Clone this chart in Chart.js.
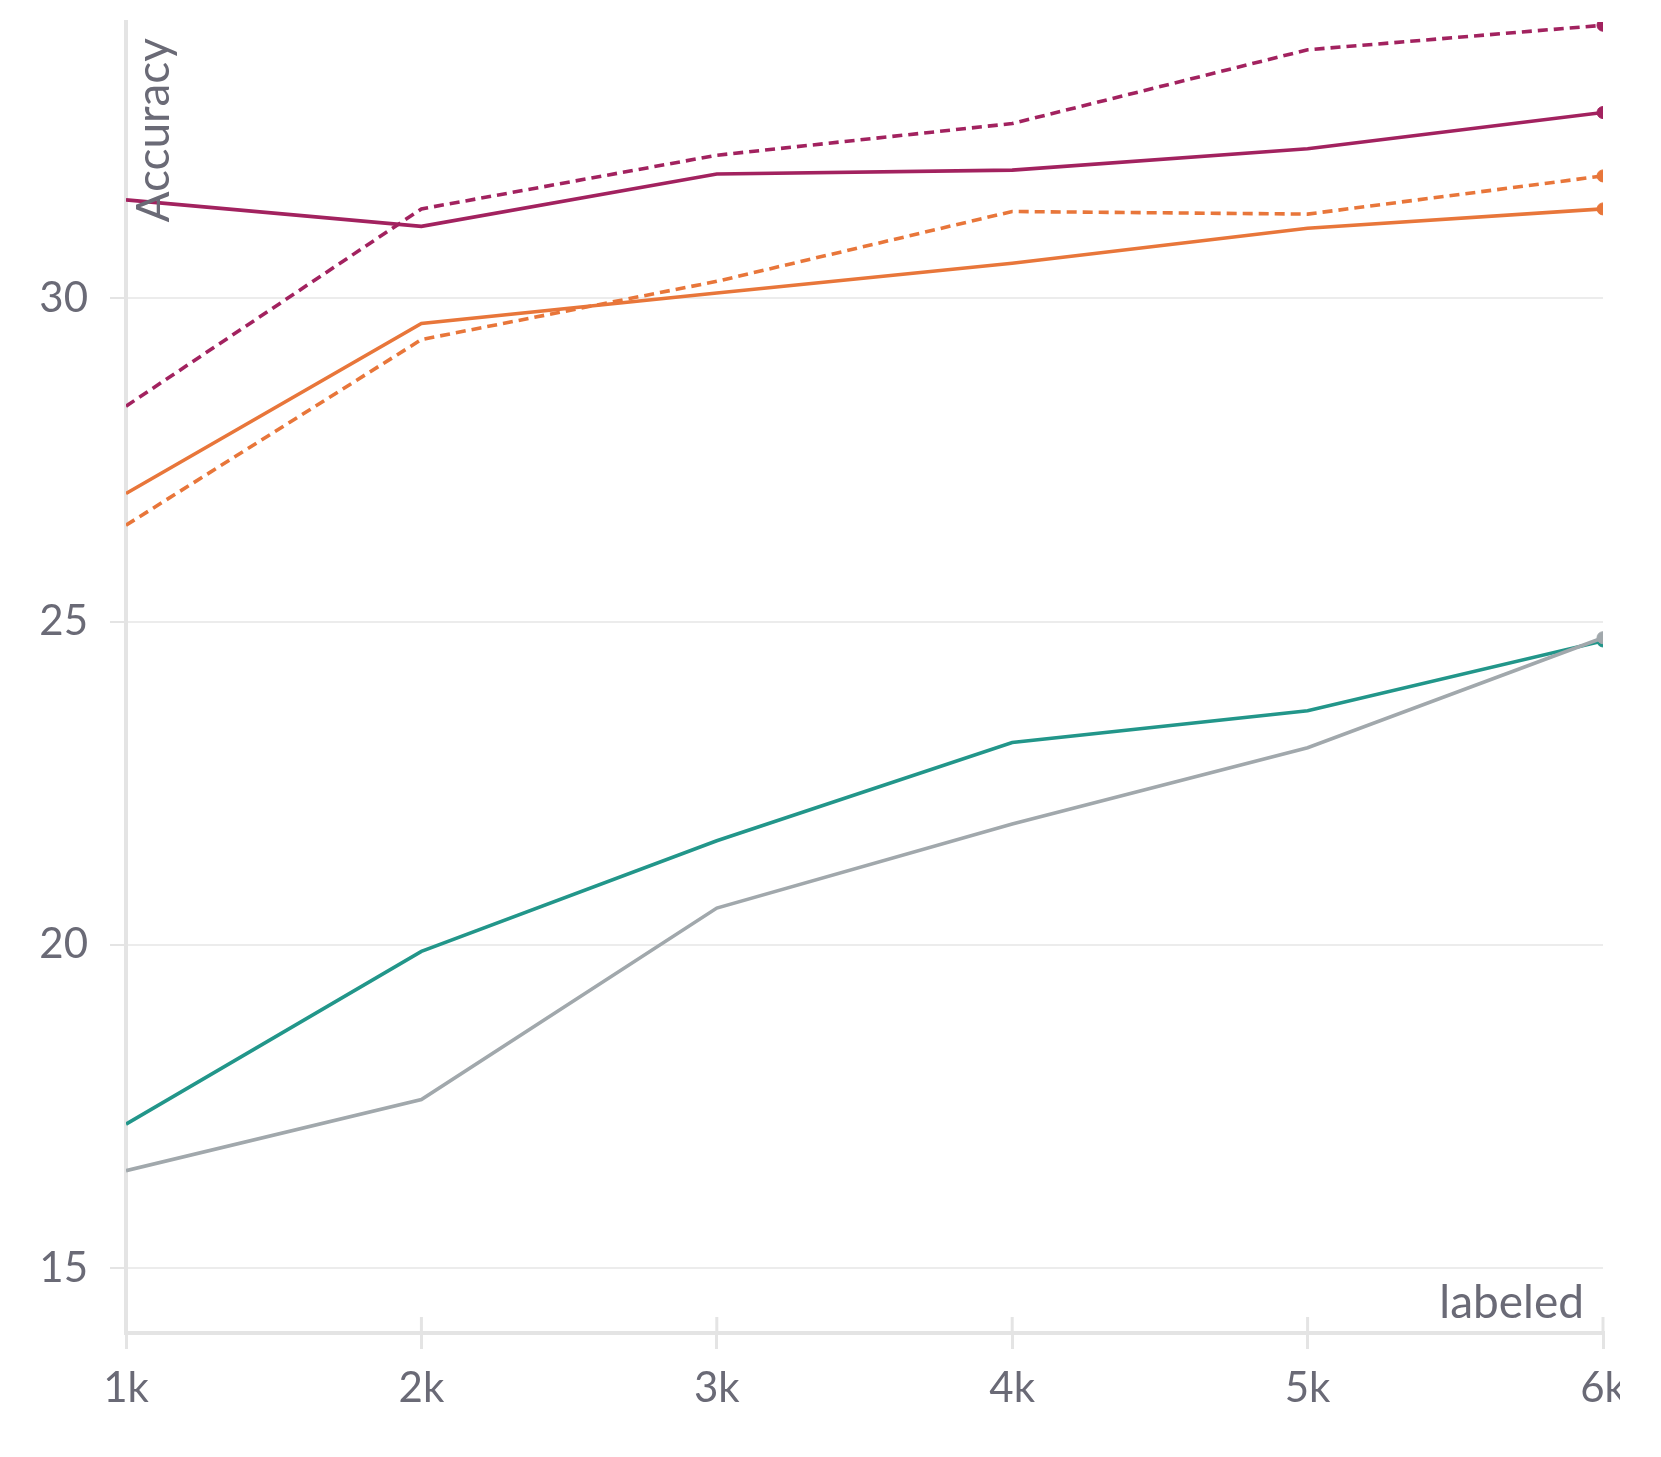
<!DOCTYPE html>
<html>
<head>
<meta charset="utf-8">
<script src="https://cdn.jsdelivr.net/npm/chart.js@4.4.1/dist/chart.umd.min.js"></script>
<style>
  body { margin: 0; background: #fff; }
  #wrap { width: 1620px; height: 1457px; overflow: hidden; }
</style>
</head>
<body>
<div id="wrap"><canvas id="myChart" width="1661" height="1457"></canvas></div>
<script>
// values
var labels = ['1k', '2k', '3k', '4k', '5k', '6k'];
var yTicks = [15, 20, 25, 30];
var magentaSolid = [31.52, 31.11, 31.92, 31.98, 32.31, 32.87];
var magentaDashed = [28.33, 31.38, 32.21, 32.70, 33.84, 34.22];
var orangeSolid = [26.98, 29.61, 30.08, 30.54, 31.08, 31.38];
var orangeDashed = [26.49, 29.36, 30.26, 31.34, 31.30, 31.89];
var tealLine = [17.23, 19.90, 21.61, 23.13, 23.62, 24.70];
var grayLine = [16.51, 17.61, 20.57, 21.87, 23.05, 24.75];

var textColor = '#6a6a76';
var axisColor = '#e4e4e4';
var fontName = 'Lato';

function series(data, color, dashed) {
    return {
        data: data,
        borderColor: color,
        backgroundColor: color,
        borderWidth: 3.6,
        borderDash: dashed ? [10, 6] : [],
        pointRadius: [0, 0, 0, 0, 0, 6],
        pointBorderWidth: 1,
        pointHoverRadius: 0,
        tension: 0,
        clip: 0
    };
}

// axis titles sit inside the plot, plus tick marks poking above the x axis
var extras = {
    id: 'extras',
    afterDraw: function (chart) {
        var ctx = chart.ctx;
        var area = chart.chartArea;
        var x = chart.scales.x;
        ctx.save();
        ctx.strokeStyle = axisColor;
        ctx.lineWidth = 3;
        x.ticks.forEach(function (t, i) {
            var px = x.getPixelForTick(i);
            ctx.beginPath();
            ctx.moveTo(px, area.bottom - 16);
            ctx.lineTo(px, area.bottom);
            ctx.stroke();
        });
        ctx.fillStyle = textColor;
        ctx.font = '46px ' + fontName;
        ctx.textAlign = 'right';
        ctx.textBaseline = 'alphabetic';
        ctx.fillText('labeled', area.right - 19, area.bottom - 15);
        ctx.translate(area.left + 43, area.top + 16);
        ctx.rotate(-Math.PI / 2);
        ctx.fillText('Accuracy', 0, 0);
        ctx.restore();
    }
};

new Chart('myChart', {
    type: 'line',
    data: {
        labels: labels,
        datasets: [
            series(magentaSolid, '#a2225f', false),
            series(magentaDashed, '#a2225f', true),
            series(orangeSolid, '#e8763a', false),
            series(orangeDashed, '#e8763a', true),
            series(grayLine, '#a1a8ac', false),
            series(tealLine, '#22968a', false)
        ]
    },
    options: {
        responsive: false,
        animation: false,
        events: [],
        layout: { padding: { left: 0, top: 22, right: 58, bottom: 0 } },
        plugins: { legend: { display: false }, tooltip: { enabled: false } },
        scales: {
            x: {
                offset: false,
                border: { color: axisColor, width: 4 },
                grid: { drawOnChartArea: false, color: axisColor, lineWidth: 3, tickLength: 16 },
                ticks: { color: textColor, font: { family: fontName, size: 42 }, padding: 14, maxRotation: 0 },
                afterFit: function (s) { s.paddingLeft = 0; s.paddingRight = 0; s.height = 124; }
            },
            y: {
                min: 14,
                max: 34.27,
                border: { color: axisColor, width: 4 },
                grid: { color: '#ececec', lineWidth: 2, tickLength: 16, tickColor: axisColor, tickWidth: 2 },
                ticks: { color: textColor, font: { family: fontName, size: 42 }, padding: 22 },
                afterBuildTicks: function (s) { s.ticks = yTicks.map(function (v) { return { value: v }; }); },
                afterFit: function (s) { s.paddingTop = 0; s.paddingBottom = 0; s.width = 126; }
            }
        }
    },
    plugins: [extras]
});
</script>
</body>
</html>
